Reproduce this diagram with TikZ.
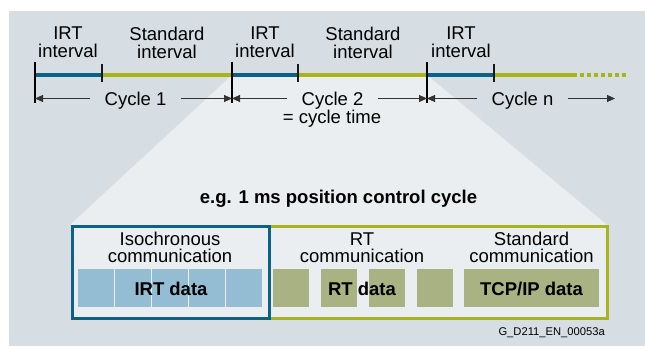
\documentclass[tikz,border=0pt]{standalone}
\usepackage{fontspec}
\setmainfont{Liberation Sans}
\usetikzlibrary{arrows.meta,positioning}
\definecolor{pnBack}{HTML}{D6DEE4}
\definecolor{pnLight}{HTML}{EAEEF1}
\definecolor{pnIRT}{HTML}{0C6286}
\definecolor{pnStd}{HTML}{A9B41C}
\definecolor{pnIRTcell}{HTML}{94BCD2}
\definecolor{pnRTcell}{HTML}{A8B283}
\tikzset{
  lbl/.style={font=\fontsize{18.5}{18}\selectfont, align=center, inner sep=0pt},
  boxlbl/.style={lbl, font=\fontsize{18.5}{17}\selectfont},
  celltxt/.style={font=\fontsize{18.5}{18}\selectfont\bfseries, inner sep=0pt, anchor=base},
  cyclbl/.style={font=\fontsize{18.5}{18}\selectfont, inner xsep=14pt, inner ysep=0pt,
    text height=14pt, text depth=0pt},
  irtline/.style={line width=4pt, pnIRT},
  stdline/.style={line width=4pt, pnStd},
  bigtick/.style={line width=2pt, black},
  smalltick/.style={line width=1.6pt, black!90},
  cycarrow/.style={-{Triangle[length=8pt,width=7pt]}, line width=0.9pt, black!80},
  cell/.style={inner sep=0pt, minimum height=38pt, minimum width=36pt, anchor=north west},
  commbox/.style={draw, line width=2.5pt, inner sep=0pt, anchor=north west}
}

\begin{document}
\begin{tikzpicture}[x=1pt, y=-1pt]
  \useasboundingbox (0,0) rectangle (645,346);
  \fill[pnBack] (9,11) rectangle (645,346);
  % zoomed cycle
  \fill[pnLight] (232,75) -- (427,75) -- (606,224) -- (606,317) -- (71,317) -- (71,224) -- cycle;

  % time line
  \coordinate (t0) at (35,75);
  \coordinate (e0) at (102,75);
  \coordinate (t1) at (232,75);
  \coordinate (e1) at (298,75);
  \coordinate (t2) at (427,75);
  \coordinate (e2) at (494,75);
  \coordinate (tend) at (577,75);
  \coordinate (dots) at (580,75);
  \coordinate (dend) at (626,75);
  \draw[irtline] (t0) -- (e0);
  \draw[stdline] (e0) -- (t1);
  \draw[irtline] (t1) -- (e1);
  \draw[stdline] (e1) -- (t2);
  \draw[irtline] (t2) -- (e2);
  \draw[stdline] (e2) -- (tend);
  \draw[stdline, dash pattern=on 4pt off 3pt] (dots) -- (dend);
  \foreach \t in {t0,t1,t2}{\draw[bigtick] ([yshift=13pt]\t) -- ([yshift=-28pt]\t);}
  \foreach \e in {e0,e1,e2}{\draw[smalltick] ([yshift=11pt]\e) -- ([yshift=-7pt]\e);}

  \node[lbl] (irt1) at (68,42.5) {IRT\\interval};
  \node[lbl] (std1) at (167,42.5) {Standard\\interval};
  \node[lbl] (irt2) at (265,42.5) {IRT\\interval};
  \node[lbl] (std2) at (363,42.5) {Standard\\interval};
  \node[lbl] (irt3) at (461,42.5) {IRT\\interval};

  % cycles
  \node[cyclbl] (cyc1) at (135.5,98.5) {Cycle 1};
  \node[cyclbl] (cyc2) at (332.5,98.5) {Cycle 2};
  \node[lbl, anchor=base] (cyctime) at (332,123.5) {= cycle time};
  \node[cyclbl] (cycn) at (522.5,98.5) {Cycle n};
  \coordinate (nend) at (615,98.5);
  \draw[cycarrow] (cyc1) -- (cyc1 -| t0);
  \draw[cycarrow] (cyc1) -- (cyc1 -| t1);
  \draw[cycarrow] (cyc2) -- (cyc2 -| t1);
  \draw[cycarrow] (cyc2) -- (cyc2 -| t2);
  \draw[cycarrow] (cycn) -- (cycn -| t2);
  \draw[cycarrow] (cycn) -- (nend);

  \node[celltxt] (title) at (338.5,203) {e.g. 1 ms position control cycle};

  % communication boxes
  \node[commbox, draw=pnStd, minimum width=338pt, minimum height=92pt] (rtbox) at (268,225) {};
  \node[commbox, draw=pnIRT, minimum width=197pt, minimum height=92pt] (isobox) at (71,225) {};
  \node[boxlbl] (isotxt) at (170,247.5) {Isochronous\\communication};
  \node[boxlbl] (rttxt) at (362,247.5) {RT\\communication};
  \node[boxlbl] (stdtxt) at (531.5,247.5) {Standard\\communication};

  \foreach \i/\x in {1/78,2/115,3/152,4/189,5/226}{\node[cell, fill=pnIRTcell] (irtc\i) at (\x,269) {};}
  \foreach \i/\x in {1/273,2/321,3/369,4/417}{\node[cell, fill=pnRTcell] (rtc\i) at (\x,269) {};}
  \node[cell, fill=pnRTcell, minimum width=135pt] (tcpc) at (464,269) {};
  \node[celltxt] (irtdata) at (171,295) {IRT data};
  \node[celltxt] (rtdata) at (362,295) {RT data};
  \node[celltxt] (tcpdata) at (531.5,295) {TCP/IP data};

  \node[font=\fontsize{11.2}{12}\selectfont, inner sep=0pt, anchor=base east] (docid) at (605,335) {G\_D211\_EN\_00053a};
\end{tikzpicture}
\end{document}
